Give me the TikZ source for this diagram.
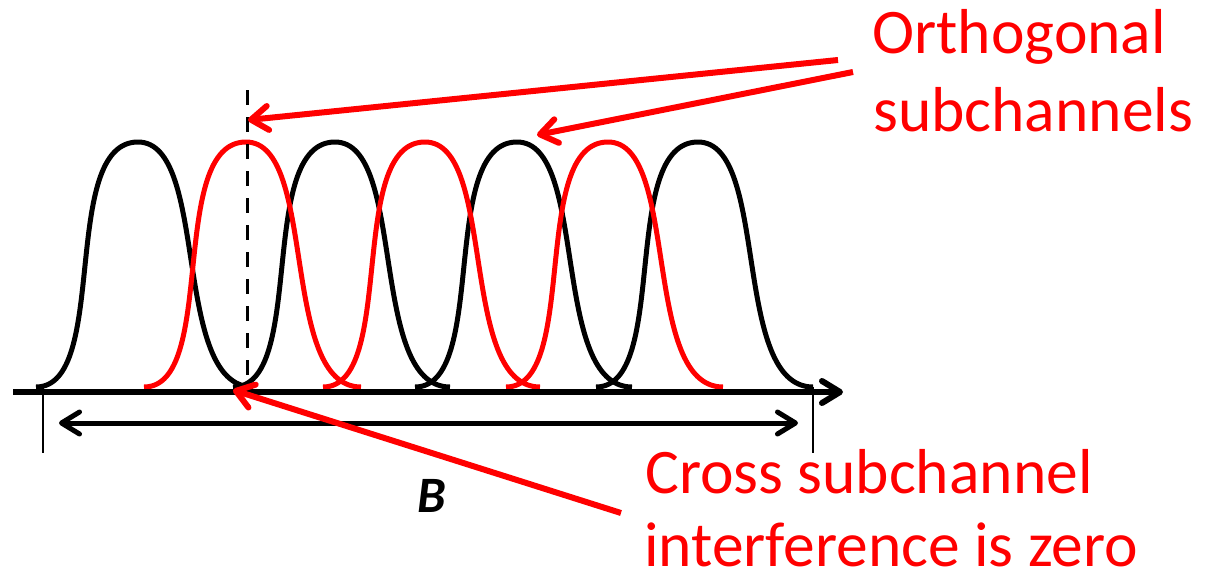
\documentclass[tikz,border=0pt]{standalone}
\usepackage{fontspec}
\setmainfont{Carlito}
\usetikzlibrary{arrows.meta}
\definecolor{pred}{RGB}{255,0,0}
\begin{document}
\begin{tikzpicture}[x=1pt,y=-1pt,
  blackpulse/.style={line width=5pt,black,line join=round},
  redpulse/.style={line width=5pt,pred,line join=round},
  redarrow/.style={line width=6pt,pred,-{Straight Barb[length=17pt,width=24pt,round]}},
  axisline/.style={line width=6pt,black,-{Straight Barb[length=18pt,width=22pt,round]}},
  spanarrow/.style={line width=5pt,black,{Straight Barb[length=18pt,width=22pt,round]}-{Straight Barb[length=18pt,width=22pt,round]}},
  tickline/.style={line width=2.5pt,black},
  dashline/.style={line width=3pt,black,dash pattern=on 15pt off 12pt},
  redtext/.style={text=pred,font=\fontsize{63.5}{76}\selectfont,inner sep=0pt,anchor=base west},
  blabel/.style={font=\fontsize{51}{60}\selectfont\bfseries\itshape,inner sep=0pt,anchor=base}]
\useasboundingbox (0,0) rectangle (1205,573);
% black pulses
\foreach \c in {138,335,517,698} {
  \draw[blackpulse] ({\c-102},387) .. controls ({\c-28},387) and ({\c-79},142) .. (\c,142)
    .. controls ({\c+72},142) and ({\c+33},387) .. ({\c+115},387);
}
% red pulses
\foreach \c in {246,425,608} {
  \draw[redpulse] ({\c-102},387) .. controls ({\c-28},387) and ({\c-79},142) .. (\c,142)
    .. controls ({\c+72},142) and ({\c+33},387) .. ({\c+115},387);
}
% coordinates
\coordinate (axL) at (13,392);
\coordinate (axR) at (843,392);
\coordinate (tkL1) at (43,387);
\coordinate (tkL2) at (43,453);
\coordinate (tkR1) at (813,387);
\coordinate (tkR2) at (813,453);
\coordinate (spL) at (59,423);
\coordinate (spR) at (798,423);
\coordinate (dT) at (247,90);
\coordinate (dB) at (247,385);
\coordinate (a1s) at (838,60);
\coordinate (a1e) at (248,120);
\coordinate (a2s) at (853,72);
\coordinate (a2e) at (537,135);
\coordinate (a3s) at (621,513);
\coordinate (a3e) at (233,390);
% axis and span
\draw[axisline] (axL) -- (axR);
\draw[tickline] (tkL1) -- (tkL2);
\draw[tickline] (tkR1) -- (tkR2);
\draw[spanarrow] (spL) -- (spR);
\draw[dashline] (dT) -- (dB);
% labels
\node[redtext] (orth1) at (872,53) {Orthogonal};
\node[redtext] (orth2) at (873,131) {subchannels};
\node[redtext] (cross1) at (645,493) {Cross subchannel};
\node[redtext] (cross2) at (644,566) {interference is zero};
\node[blabel] (bw) at (432,512) {B};
% red arrows
\draw[redarrow] (a1s) -- (a1e);
\draw[redarrow] (a2s) -- (a2e);
\draw[redarrow] (a3s) -- (a3e);
\end{tikzpicture}
\end{document}
